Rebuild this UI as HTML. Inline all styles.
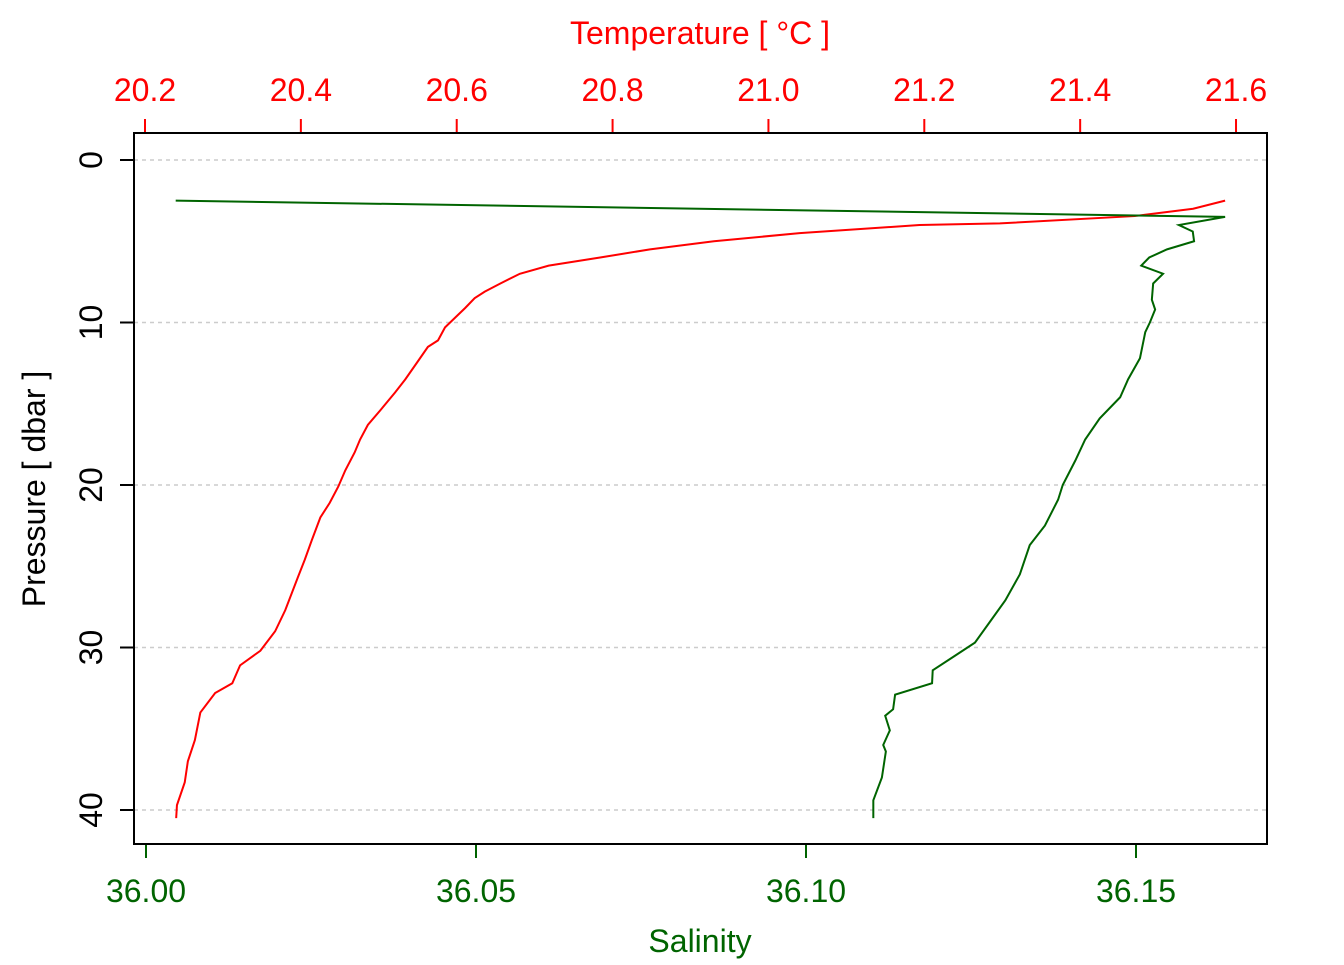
<!DOCTYPE html>
<html><head><meta charset="utf-8"><style>
body{margin:0;background:#fff}
svg text{font-family:"Liberation Sans",sans-serif;font-size:32px}
</style></head><body>
<svg width="1344" height="960">
<g id="g"></g>
</svg>
<script>
const pressureT=[2.5,3.0,3.45,3.9,4.0,4.5,5.0,5.5,6.0,6.5,7.0,7.6,8.1,8.5,9.1,9.7,10.3,11.1,11.5,12.4,13.5,14.3,15.4,16.3,17.2,18.0,19.1,20.1,21.1,22.0,23.4,24.6,25.7,27.7,29.0,30.2,31.1,32.2,32.8,34.0,35.7,37.0,38.3,39.7,40.5];
const temperature=[21.586,21.545,21.470,21.297,21.194,21.04,20.93,20.848,20.784,20.718,20.681,20.656,20.636,20.623,20.611,20.598,20.585,20.576,20.563,20.550,20.534,20.521,20.502,20.486,20.476,20.469,20.457,20.448,20.437,20.425,20.414,20.405,20.396,20.380,20.367,20.348,20.322,20.312,20.290,20.271,20.264,20.255,20.251,20.241,20.240];
const pressureS=[2.5,3.5,4.0,4.4,5.0,5.5,6.0,6.5,7.0,7.6,8.6,9.2,10.0,10.6,12.2,13.5,14.6,15.9,17.2,18.5,20.0,20.9,22.5,23.7,25.5,27.1,28.4,29.7,30.5,31.4,32.2,32.9,33.8,34.2,35.1,36.0,36.4,38.0,39.4,40.5];
const salinity=[36.0045,36.1635,36.1565,36.1586,36.1588,36.1547,36.1520,36.1508,36.1541,36.1526,36.1524,36.1529,36.1521,36.1514,36.1506,36.1488,36.1476,36.1445,36.1423,36.1408,36.1389,36.1382,36.1362,36.1339,36.1324,36.1302,36.1279,36.1256,36.1226,36.1192,36.1191,36.1135,36.1132,36.1120,36.1127,36.1117,36.1121,36.1115,36.1102,36.1102];
const pTicks=[0,10,20,30,40];
const tTicks=["20.2","20.4","20.6","20.8","21.0","21.2","21.4","21.6"];
const sTicks=["36.00","36.05","36.10","36.15"];
const y=p=>160+p*16.25, xT=t=>145+(t-20.2)*779.3, xS=s=>146+(s-36)*6600;
const g=document.getElementById('g'),NS='http://www.w3.org/2000/svg';
function mk(tag,a,txt){const e=document.createElementNS(NS,tag);for(const k in a)e.setAttribute(k,a[k]);if(txt!=null)e.textContent=txt;g.appendChild(e);return e;}
pTicks.forEach(p=>{
 let l=mk('line',{x1:134,x2:1267,y1:y(p),y2:y(p),stroke:'#ccc','stroke-width':1.5,'stroke-dasharray':'4,4'});
 
 
 mk('line',{x1:120,x2:134,y1:y(p),y2:y(p),stroke:'#000','stroke-width':2});
 let t=mk('text',{x:0,y:0,transform:`translate(102,${y(p)}) rotate(-90)`,'text-anchor':'middle'},p);
 
 
});
tTicks.forEach(v=>{const x=xT(+v);
 mk('line',{x1:x,x2:x,y1:119,y2:133,stroke:'red','stroke-width':2});
 let t=mk('text',{x:x,y:101,'text-anchor':'middle',fill:'red'},v);
 
 
});
sTicks.forEach(v=>{const x=xS(+v);
 mk('line',{x1:x,x2:x,y1:844,y2:858,stroke:'#006400','stroke-width':2});
 let t=mk('text',{x:x,y:902,'text-anchor':'middle',fill:'#006400'},v);
 
 
});
let r=mk('polyline',{points:temperature.map((t,i)=>xT(t)+','+y(pressureT[i])).join(' '),fill:'none',stroke:'red','stroke-width':2});


let s=mk('polyline',{points:salinity.map((v,i)=>xS(v)+','+y(pressureS[i])).join(' '),fill:'none',stroke:'#006400','stroke-width':2});


let b=mk('rect',{x:134,y:133,width:1133,height:711,fill:'none',stroke:'#000','stroke-width':2});


let a=mk('text',{x:700,y:44,'text-anchor':'middle',fill:'red'},'Temperature [ °C ]');


let c=mk('text',{x:700,y:952,'text-anchor':'middle',fill:'#006400'},'Salinity');


let d=mk('text',{x:0,y:0,transform:'translate(45,489) rotate(-90)','text-anchor':'middle'},'Pressure [ dbar ]');


</script>
</body></html>
